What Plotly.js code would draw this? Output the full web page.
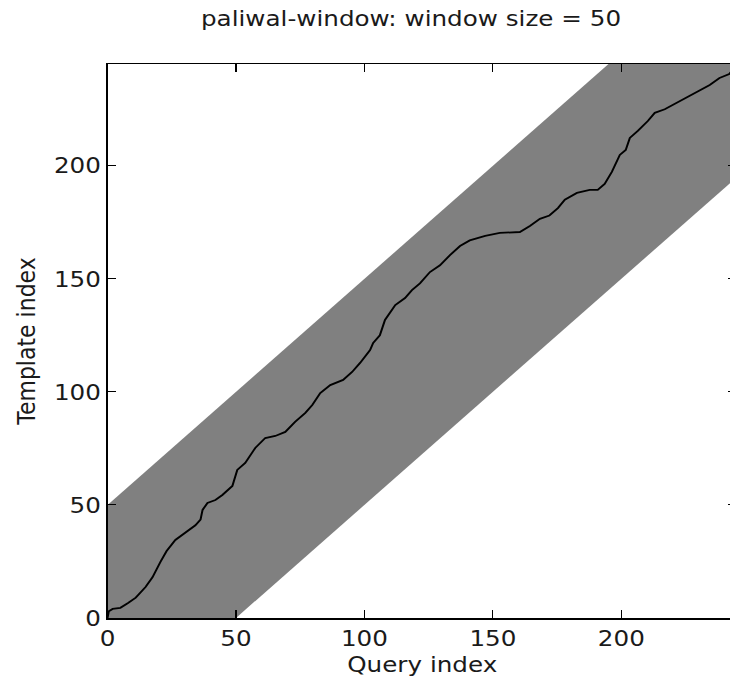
<!DOCTYPE html>
<html>
<head>
<meta charset="utf-8">
<script src="https://cdn.plot.ly/plotly-3.0.1.min.js"></script>
<style>
html,body{margin:0;padding:0;overflow:hidden;background:#fff;width:730px;height:680px;}
#wrap{width:730px;height:680px;overflow:hidden;}
#chart{transform:scale(1.12,1);transform-origin:0 0;}
</style>
</head>
<body>
<div id="wrap"><div id="chart"></div></div>
<script>
// Window definition
const windowSize = 50;
const queryLength = 246;
const templateLength = 246;

// Warping path (query index, template index)
const pathQuery = [0, 0.5, 2, 5, 8, 11, 14.8, 17.5, 20.6, 23, 26.4, 30.3, 34.2, 36.2, 37, 38.9, 42, 44.7, 48.6, 50.5, 53.6, 57.5, 61.4, 65.3, 69.2, 73, 77, 79.7, 82.8, 86.7, 91.7, 95.2, 98.3, 102.2, 103.4, 106, 108, 112, 115.8, 118.5, 121.6, 125.5, 129.4, 133.3, 137.2, 141, 147, 152.7, 160.5, 164.4, 168.3, 172, 175.3, 178, 182.7, 187.7, 190.8, 193.5, 196.3, 199.4, 201.7, 203.3, 206.4, 210.3, 213, 216.9, 222, 226.6, 230.5, 234.4, 238.2, 242, 245];
const pathTemplate = [0, 3, 4, 4.5, 6.6, 9, 13.7, 18, 24.8, 29.6, 34.5, 37.6, 41, 43.5, 47.8, 50.9, 52.2, 54.4, 58.4, 65.5, 68.6, 75.2, 79.6, 80.5, 82.3, 86.7, 90.7, 94.2, 99.5, 103, 105.3, 108.8, 112.8, 118.5, 121.6, 125, 131.8, 138.4, 141.5, 145, 148, 153, 156, 160.5, 164.5, 167, 169, 170.3, 170.7, 173.4, 176.5, 178, 181.3, 185, 188, 189.3, 189.3, 192, 197.3, 204.8, 207, 212.3, 215.4, 219.8, 223.4, 225, 228.2, 231, 233.5, 235.7, 238.8, 240.6, 245];

const xTicks = [0, 50, 100, 150, 200];
const yTicks = [0, 50, 100, 150, 200];

// Band polygon from the window definition
const qMax = queryLength - 1, tMax = templateLength - 1;
const bandX = [0, 0, tMax - windowSize, qMax, qMax, windowSize, 0];
const bandY = [0, windowSize, tMax, tMax, qMax - windowSize, 0, 0];

const font = {family: 'DejaVu Sans, sans-serif', size: 22, color: '#1a1a1a'};

const traces = [
  {x: bandX, y: bandY, type: 'scatter', mode: 'lines', fill: 'toself',
   fillcolor: 'rgb(128,128,128)', line: {width: 0, color: 'rgb(128,128,128)'}, hoverinfo: 'skip'},
  {x: pathQuery, y: pathTemplate, type: 'scatter', mode: 'lines',
   line: {color: '#000', width: 1.8}, hoverinfo: 'skip'}
];

const W = 665;
const axisCommon = {
  showgrid: false, zeroline: false, showline: true, linecolor: '#000', linewidth: 1.5,
  mirror: 'ticks', ticks: 'inside', ticklen: 8, tickwidth: 1, tickcolor: '#000',
  tickfont: font
};

const layout = {
  width: W, height: 680,
  margin: {l: 95.5, r: 7, t: 64, b: 62},
  paper_bgcolor: '#fff', plot_bgcolor: '#fff',
  showlegend: false,
  title: {text: 'paliwal-window: window size = 50', font: {family: font.family, size: 22, color: '#1a1a1a'},
          x: 367 / W, xref: 'container', xanchor: 'center', y: 1 - 18 / 680, yref: 'container', yanchor: 'middle'},
  xaxis: Object.assign({}, axisCommon, {range: [0, qMax], tickvals: xTicks, ticktext: xTicks.map(String),
          title: {text: 'Query index', font: font, standoff: 6}}),
  yaxis: Object.assign({}, axisCommon, {range: [0, tMax], tickvals: yTicks, ticktext: yTicks.map(String),
          title: {text: 'Template index', font: font, standoff: 10}})
};

Plotly.newPlot('chart', traces, layout, {staticPlot: true, displayModeBar: false});
</script>
</body>
</html>
